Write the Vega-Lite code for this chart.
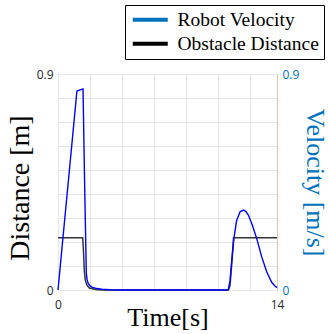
{
  "$schema": "https://vega.github.io/schema/vega-lite/v6.json",
  "width": 219,
  "height": 216,
  "autosize": {"type": "none"},
  "padding": {"left": 58, "top": 74, "right": 52, "bottom": 44},
  "background": "white",
  "config": {
    "view": {"stroke": "#bdbdbd", "strokeWidth": 1},
    "axis": {
      "grid": true,
      "gridColor": "#e6e6e6",
      "gridWidth": 1,
      "ticks": false,
      "domain": false,
      "labelFont": "Open Sans",
      "labelFontSize": 12,
      "labelColor": "#262626",
      "labelFlush": false,
      "labelOverlap": false,
      "titleFont": "Liberation Serif",
      "titleFontWeight": "normal",
      "titleColor": "#000000"
    }
  },
  "data": {
    "values": [
      {"t": 0, "value": 0.218, "series": "Obstacle Distance"},
      {"t": 1.58, "value": 0.218, "series": "Obstacle Distance"},
      {"t": 1.63, "value": 0.16, "series": "Obstacle Distance"},
      {"t": 1.68, "value": 0.08, "series": "Obstacle Distance"},
      {"t": 1.75, "value": 0.04, "series": "Obstacle Distance"},
      {"t": 1.85, "value": 0.02, "series": "Obstacle Distance"},
      {"t": 2.0, "value": 0.008, "series": "Obstacle Distance"},
      {"t": 2.5, "value": 0.001, "series": "Obstacle Distance"},
      {"t": 3.0, "value": 0, "series": "Obstacle Distance"},
      {"t": 10.9, "value": 0, "series": "Obstacle Distance"},
      {"t": 11.0, "value": 0.02, "series": "Obstacle Distance"},
      {"t": 11.12, "value": 0.12, "series": "Obstacle Distance"},
      {"t": 11.22, "value": 0.218, "series": "Obstacle Distance"},
      {"t": 14, "value": 0.218, "series": "Obstacle Distance"},
      {"t": 0, "value": 0, "series": "Robot Velocity"},
      {"t": 1.21, "value": 0.829, "series": "Robot Velocity"},
      {"t": 1.6, "value": 0.838, "series": "Robot Velocity"},
      {"t": 1.7, "value": 0.45, "series": "Robot Velocity"},
      {"t": 1.81, "value": 0.07, "series": "Robot Velocity"},
      {"t": 1.86, "value": 0.043, "series": "Robot Velocity"},
      {"t": 1.93, "value": 0.027, "series": "Robot Velocity"},
      {"t": 2.05, "value": 0.017, "series": "Robot Velocity"},
      {"t": 2.2, "value": 0.011, "series": "Robot Velocity"},
      {"t": 2.5, "value": 0.006, "series": "Robot Velocity"},
      {"t": 2.8, "value": 0.003, "series": "Robot Velocity"},
      {"t": 3.3, "value": 0.001, "series": "Robot Velocity"},
      {"t": 4.0, "value": 0, "series": "Robot Velocity"},
      {"t": 10.8, "value": 0, "series": "Robot Velocity"},
      {"t": 10.89, "value": 0.003, "series": "Robot Velocity"},
      {"t": 11.0, "value": 0.04, "series": "Robot Velocity"},
      {"t": 11.1, "value": 0.118, "series": "Robot Velocity"},
      {"t": 11.25, "value": 0.217, "series": "Robot Velocity"},
      {"t": 11.42, "value": 0.29, "series": "Robot Velocity"},
      {"t": 11.64, "value": 0.326, "series": "Robot Velocity"},
      {"t": 11.85, "value": 0.333, "series": "Robot Velocity"},
      {"t": 12.0, "value": 0.328, "series": "Robot Velocity"},
      {"t": 12.17, "value": 0.3125, "series": "Robot Velocity"},
      {"t": 12.42, "value": 0.271, "series": "Robot Velocity"},
      {"t": 12.7, "value": 0.215, "series": "Robot Velocity"},
      {"t": 13.02, "value": 0.139, "series": "Robot Velocity"},
      {"t": 13.34, "value": 0.076, "series": "Robot Velocity"},
      {"t": 13.66, "value": 0.032, "series": "Robot Velocity"},
      {"t": 13.85, "value": 0.018, "series": "Robot Velocity"},
      {"t": 14.0, "value": 0.01, "series": "Robot Velocity"}
    ]
  },
  "layer": [
    {
      "transform": [{"filter": "datum.series == 'Obstacle Distance'"}],
      "mark": {"type": "line", "color": "#333333", "strokeWidth": 1.5},
      "encoding": {
        "x": {
          "field": "t", "type": "quantitative", "title": "Time[s]",
          "scale": {"domain": [0, 14], "nice": false, "zero": false},
          "axis": {
            "values": [0, 2.03, 4.09, 6.14, 8.18, 10.23, 12.28, 14],
            "tickCount": 20,
            "labelExpr": "datum.value < 0.5 ? '0' : (datum.value > 13.5 ? '14' : '')",
            "labelOverlap": false,
            "labelFlush": false,
            "labelPadding": 9,
            "titleFontSize": 26,
            "titleBaseline": "alphabetic",
            "titleY": 35
          }
        },
        "y": {
          "field": "value", "type": "quantitative", "title": "Distance [m]",
          "scale": {"domain": [0, 0.9], "nice": false},
          "axis": {
            "orient": "left",
            "values": [0, 0.1, 0.2, 0.3, 0.4, 0.5, 0.6, 0.7, 0.8, 0.9],
            "tickCount": 20,
            "labelExpr": "datum.value == 0 ? '0' : (datum.value == 0.9 ? '0.9' : '')",
            "labelOverlap": false,
            "labelPadding": 5,
            "titleFontSize": 28,
            "titleBaseline": "alphabetic",
            "titleX": -29.5,
            "titleY": 113.5
          }
        }
      }
    },
    {
      "transform": [{"filter": "datum.series == 'Robot Velocity'"}],
      "mark": {"type": "line", "color": "#0000ff", "strokeWidth": 1.4},
      "encoding": {
        "x": {"field": "t", "type": "quantitative", "title": "Time[s]"},
        "y": {
          "field": "value", "type": "quantitative", "title": "Velocity [m/s]",
          "scale": {"domain": [0, 0.9], "nice": false},
          "axis": {
            "orient": "right",
            "grid": false,
            "values": [0, 0.9],
            "labelExpr": "datum.value == 0 ? '0' : '0.9'",
            "labelOverlap": false,
            "labelColor": "#0072BD",
            "labelPadding": 5,
            "domain": true,
            "domainColor": "#d9c7b0",
            "titleColor": "#0072BD",
            "titleFontSize": 26,
            "titleBaseline": "alphabetic",
            "titleX": 29.5,
            "titleY": 108
          }
        }
      }
    },
    {
      "mark": {"type": "line", "strokeOpacity": 0},
      "encoding": {
        "x": {"field": "t", "type": "quantitative", "title": "Time[s]"},
        "y": {"field": "value", "type": "quantitative", "axis": null},
        "color": {
          "field": "series", "type": "nominal",
          "scale": {"domain": ["Robot Velocity", "Obstacle Distance"], "range": ["#0072BD", "#000000"]},
          "legend": {
            "orient": "none",
            "legendX": 67,
            "legendY": -69,
            "title": null,
            "strokeColor": "#000000",
            "padding": 5,
            "symbolType": "M-1,0H4",
            "symbolSize": 196,
            "symbolStrokeWidth": 4,
            "symbolOpacity": 1,
            "labelFont": "Liberation Serif",
            "labelFontSize": 19.5,
            "labelColor": "#000000",
            "labelLimit": 300,
            "labelOffset": 28,
            "rowPadding": 3
          }
        }
      }
    }
  ],
  "resolve": {"scale": {"y": "independent"}}
}
